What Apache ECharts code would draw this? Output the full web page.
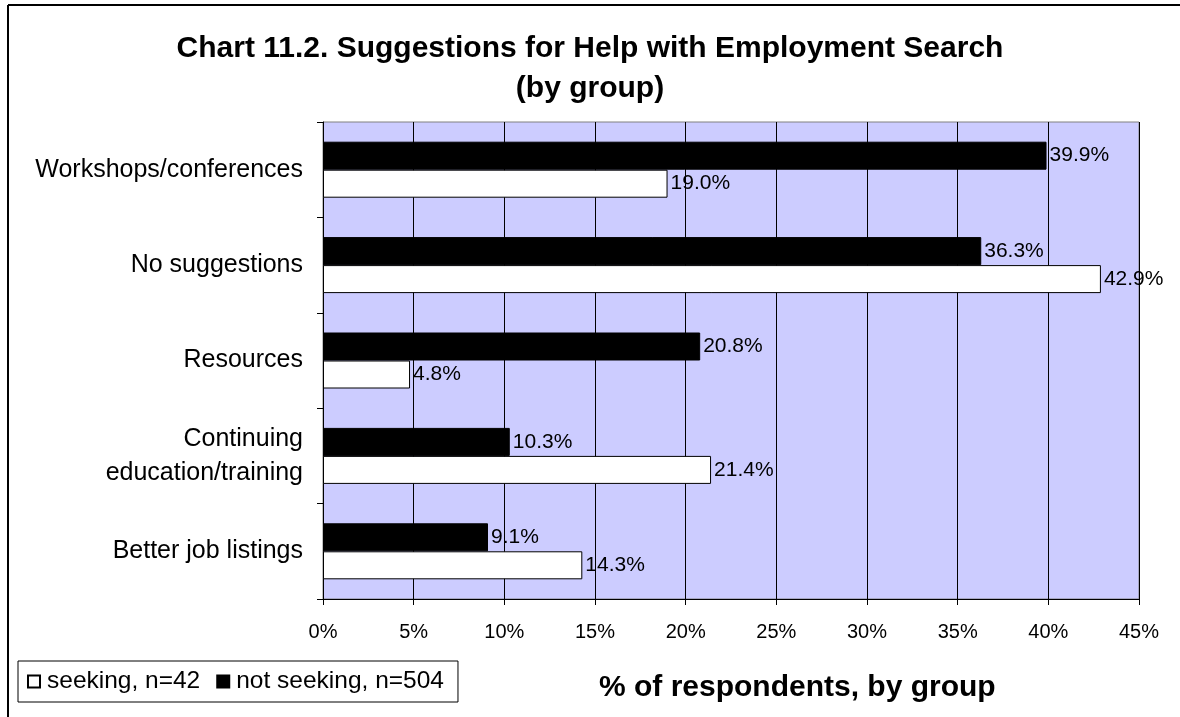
<!DOCTYPE html>
<html>
<head>
<meta charset="utf-8">
<script src="https://cdn.jsdelivr.net/npm/echarts@6/dist/echarts.min.js"></script>
<style>
  html, body { margin: 0; padding: 0; background: #fff; }
  #chart { width: 1180px; height: 717px; }
</style>
</head>
<body>
<div id="chart"></div>
<script>
// Suggestion categories, listed top to bottom
var categories = [
  'Workshops/conferences',
  'No suggestions',
  'Resources',
  'Continuing\neducation/training',
  'Better job listings'
];
// Percent of respondents in each group
var notSeeking = [39.9, 36.3, 20.8, 10.3, 9.1];
var seeking = [19.0, 42.9, 4.8, 21.4, 14.3];
var seriesNames = ['seeking, n=42', 'not seeking, n=504'];
var xTicks = { min: 0, max: 45, step: 5 };

var font = 'Liberation Sans, Arial, sans-serif';
var chart = echarts.init(document.getElementById('chart'));

function valueLabel() {
  return {
    show: true,
    position: 'right',
    distance: 3,
    color: '#000',
    fontFamily: font,
    fontSize: 21,
    formatter: function (p) { return p.value.toFixed(1) + '%'; }
  };
}

chart.setOption({
  animation: false,
  backgroundColor: '#fff',
  textStyle: { fontFamily: font, color: '#000' },
  title: {
    text: 'Chart 11.2. Suggestions for Help with Employment Search\n(by group)',
    left: 'center',
    top: 24,
    textStyle: {
      fontFamily: font,
      fontSize: 30,
      fontWeight: 'bold',
      color: '#000',
      lineHeight: 40
    }
  },
  legend: {
    data: seriesNames,
    icon: 'rect',
    left: 18,
    top: 661,
    orient: 'horizontal',
    itemWidth: 12,
    itemHeight: 12,
    itemGap: 16,
    padding: [8, 14, 8, 9],
    borderColor: '#000',
    borderWidth: 1,
    textStyle: { fontFamily: font, fontSize: 24.5, color: '#000', padding: [0, 0, 0, 2] }
  },
  grid: {
    left: 323,
    right: 41,
    top: 122,
    bottom: 118,
    show: true,
    backgroundColor: '#CCCCFF',
    borderColor: '#808080',
    borderWidth: 1
  },
  xAxis: {
    type: 'value',
    min: xTicks.min,
    max: xTicks.max,
    interval: xTicks.step,
    axisLine: { show: true, lineStyle: { color: '#000', width: 1 } },
    axisTick: { show: true, length: 6, lineStyle: { color: '#000' } },
    splitLine: { show: true, lineStyle: { color: '#000', width: 1 } },
    axisLabel: {
      margin: 23,
      fontFamily: font,
      fontSize: 20,
      color: '#000',
      formatter: '{value}%'
    }
  },
  yAxis: {
    type: 'category',
    data: categories,
    inverse: true,
    axisLine: { show: true, lineStyle: { color: '#000', width: 1 } },
    axisTick: { show: true, length: 6, lineStyle: { color: '#000' } },
    axisLabel: {
      margin: 20,
      fontFamily: font,
      fontSize: 25,
      color: '#000',
      lineHeight: 34,
      align: 'right'
    }
  },
  series: [
    {
      name: seriesNames[1],
      type: 'bar',
      data: notSeeking,
      barWidth: 28,
      barGap: '0%',
      itemStyle: { color: '#000', borderColor: '#000', borderWidth: 1 },
      label: valueLabel(),
      z: 3
    },
    {
      name: seriesNames[0],
      type: 'bar',
      data: seeking,
      barWidth: 28,
      barGap: '0%',
      itemStyle: { color: '#fff', borderColor: '#000', borderWidth: 1 },
      label: valueLabel(),
      z: 3
    }
  ],
  graphic: [
    // outer frame: top and left edges
    {
      type: 'line',
      shape: { x1: 8, y1: 5, x2: 1180, y2: 5 },
      style: { stroke: '#000', lineWidth: 2 },
      silent: true
    },
    {
      type: 'line',
      shape: { x1: 8, y1: 5, x2: 8, y2: 717 },
      style: { stroke: '#000', lineWidth: 2 },
      silent: true
    },
    {
      type: 'text',
      left: 599,
      top: 673,
      style: {
        text: '% of respondents, by group',
        fontFamily: font,
        fontSize: 30,
        fontWeight: 'bold',
        fill: '#000'
      }
    }
  ]
});
</script>
</body>
</html>
